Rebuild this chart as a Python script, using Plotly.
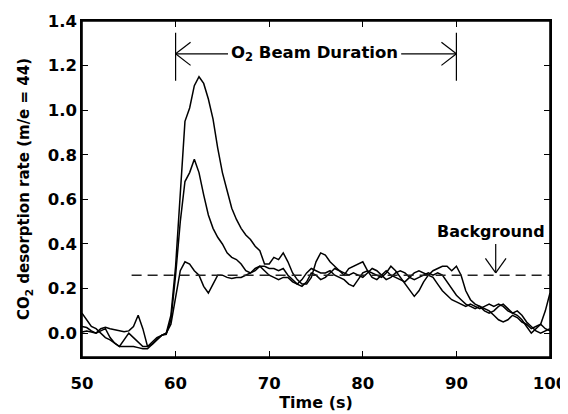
import plotly.graph_objects as go

# time axis (s), 0.5 s sampling
time_s = [50 + 0.5 * i for i in range(101)]

# large-peak run
rate_a = [0.09, 0.06, 0.03, 0.02, 0.0, -0.02, -0.03, -0.045, -0.06, -0.06,
          -0.06, -0.06, -0.065, -0.07, -0.07, -0.05, -0.03, -0.01, 0.0, 0.08,
          0.30, 0.62, 0.95, 1.01, 1.11, 1.15, 1.12, 1.05, 0.96, 0.83,
          0.72, 0.64, 0.56, 0.51, 0.47, 0.44, 0.42, 0.39, 0.37, 0.31,
          0.31, 0.34, 0.33, 0.36, 0.32, 0.27, 0.24, 0.22, 0.22, 0.25,
          0.32, 0.36, 0.35, 0.32, 0.30, 0.28, 0.27, 0.26, 0.27, 0.26,
          0.25, 0.27, 0.29, 0.28, 0.26, 0.24, 0.25, 0.27, 0.28, 0.27,
          0.25, 0.24, 0.25, 0.26, 0.27, 0.26, 0.27, 0.26, 0.23, 0.20,
          0.17, 0.15, 0.13, 0.12, 0.11, 0.12, 0.11, 0.10, 0.08, 0.06,
          0.05, 0.06, 0.08, 0.07, 0.05, 0.04, 0.02, 0.03, 0.04, 0.02,
          0.01]

# medium-peak run
rate_b = [0.03, 0.025, 0.01, 0.0, 0.02, 0.026, 0.02, 0.015, 0.01, 0.006,
          0.01, 0.03, 0.08, 0.02, -0.06, -0.05, -0.03, -0.01, -0.005, 0.06,
          0.26, 0.50, 0.68, 0.72, 0.78, 0.72, 0.62, 0.53, 0.47, 0.43,
          0.40, 0.36, 0.34, 0.33, 0.31, 0.28, 0.27, 0.28, 0.30, 0.30,
          0.29, 0.29, 0.28, 0.29, 0.26, 0.24, 0.22, 0.21, 0.23, 0.27,
          0.26, 0.24, 0.25, 0.27, 0.29, 0.28, 0.26, 0.29, 0.30, 0.31,
          0.32, 0.28, 0.25, 0.24, 0.26, 0.28, 0.26, 0.25, 0.24, 0.23,
          0.25, 0.27, 0.28, 0.27, 0.26, 0.25, 0.22, 0.19, 0.17, 0.15,
          0.14, 0.13, 0.12, 0.13, 0.12, 0.11, 0.12, 0.13, 0.12, 0.13,
          0.12, 0.10, 0.09, 0.10, 0.08, 0.05, 0.03, 0.01, 0.0, 0.01,
          0.02]

# small-peak run
rate_c = [0.005, 0.01, 0.005, 0.0, 0.01, 0.02, -0.02, -0.045, -0.06, -0.03,
          0.0, -0.02, -0.04, -0.06, -0.06, -0.04, -0.02, -0.01, 0.0, 0.04,
          0.16, 0.28, 0.32, 0.31, 0.28, 0.26, 0.21, 0.18, 0.22, 0.26,
          0.26, 0.25, 0.245, 0.25, 0.25, 0.26, 0.27, 0.29, 0.30, 0.28,
          0.26, 0.25, 0.24, 0.25, 0.25, 0.23, 0.22, 0.24, 0.27, 0.29,
          0.28, 0.27, 0.27, 0.28, 0.26, 0.25, 0.24, 0.22, 0.21, 0.24,
          0.27, 0.28, 0.27, 0.26, 0.25, 0.27, 0.30, 0.28, 0.25, 0.22,
          0.19, 0.165, 0.19, 0.23, 0.26, 0.28, 0.29, 0.30, 0.30, 0.28,
          0.30, 0.26, 0.19, 0.15, 0.13, 0.12, 0.10, 0.09, 0.10, 0.12,
          0.13, 0.11, 0.09, 0.08, 0.06, 0.03, 0.0, 0.02, 0.04, 0.10,
          0.18]

background_x = [55.3, 100]
background_y = [0.26, 0.26]

x_ticks = [50, 60, 70, 80, 90, 100]
y_ticks = [0.0, 0.2, 0.4, 0.6, 0.8, 1.0, 1.2, 1.4]

FONT = "DejaVu Sans"

fig = go.Figure()
for series in (rate_a, rate_b, rate_c):
    fig.add_trace(go.Scatter(x=time_s, y=series, mode="lines",
                             line=dict(color="black", width=1.5),
                             showlegend=False, hoverinfo="skip"))
fig.add_trace(go.Scatter(x=background_x, y=background_y, mode="lines",
                         line=dict(color="#222222", width=1.5, dash="10px,6px"),
                         showlegend=False, hoverinfo="skip"))

shapes = [dict(type="rect", xref="paper", yref="paper", x0=0, x1=1, y0=0, y1=1,
               line=dict(color="black", width=1.6), layer="above")]
ln = dict(color="black", width=1.2)
# beam duration markers
for xv in (60, 90):
    shapes.append(dict(type="line", xref="x", yref="y", x0=xv, x1=xv,
                       y0=1.132, y1=1.347, line=ln))
arr_y = 1.253
shapes += [
    dict(type="line", xref="x", yref="y", x0=60, x1=65.6, y0=arr_y, y1=arr_y, line=ln),
    dict(type="line", xref="x", yref="y", x0=84.1, x1=90, y0=arr_y, y1=arr_y, line=ln),
    dict(type="line", xref="x", yref="y", x0=60, x1=61.6, y0=arr_y, y1=arr_y + 0.052, line=ln),
    dict(type="line", xref="x", yref="y", x0=60, x1=61.6, y0=arr_y, y1=arr_y - 0.052, line=ln),
    dict(type="line", xref="x", yref="y", x0=90, x1=88.4, y0=arr_y, y1=arr_y + 0.052, line=ln),
    dict(type="line", xref="x", yref="y", x0=90, x1=88.4, y0=arr_y, y1=arr_y - 0.052, line=ln),
    # background arrow
    dict(type="line", xref="x", yref="y", x0=94.2, x1=94.2, y0=0.40, y1=0.27, line=ln),
    dict(type="line", xref="x", yref="y", x0=94.2, x1=93.1, y0=0.27, y1=0.335, line=ln),
    dict(type="line", xref="x", yref="y", x0=94.2, x1=95.3, y0=0.27, y1=0.335, line=ln),
]

annotations = [
    dict(x=74.85, y=arr_y, xref="x", yref="y", text="O<sub>2</sub> Beam Duration",
         showarrow=False, font=dict(family=FONT, size=16.5, color="black", weight="bold"),
         xanchor="center", yanchor="middle"),
    dict(x=93.7, y=0.456, xref="x", yref="y", text="Background",
         showarrow=False, font=dict(family=FONT, size=16, color="black", weight="bold"),
         xanchor="center", yanchor="middle"),
]

axis_common = dict(showgrid=False, zeroline=False, showline=True, linecolor="black",
                   linewidth=1.5, mirror="ticks", ticks="inside", ticklen=6,
                   tickwidth=1.2, tickcolor="black", automargin=False,
                   tickfont=dict(family=FONT, size=16.5, color="black", weight="bold"))

# the page body adds an 8 px offset, so the figure is 8 px smaller
fig.update_layout(
    width=560, height=406,
    margin=dict(l=74, r=18, t=13, b=57),
    paper_bgcolor="white", plot_bgcolor="white",
    font=dict(family=FONT, color="black"),
    shapes=shapes, annotations=annotations,
    xaxis=dict(range=[50, 100], tickvals=x_ticks, ticktext=[str(v) for v in x_ticks],
               ticklabelstandoff=10,
               title=dict(text="Time (s)",
                          font=dict(family=FONT, size=16, color="black", weight="bold"),
                          standoff=3),
               **axis_common),
    yaxis=dict(range=[-0.107, 1.4], tickvals=y_ticks,
               ticktext=[f"{v:.1f}" for v in y_ticks],
               title=dict(text="CO<sub>2</sub> desorption rate (m/e = 44)",
                          font=dict(family=FONT, size=15, color="black", weight="bold"),
                          standoff=14),
               **axis_common),
)

fig.write_html("out.html")
